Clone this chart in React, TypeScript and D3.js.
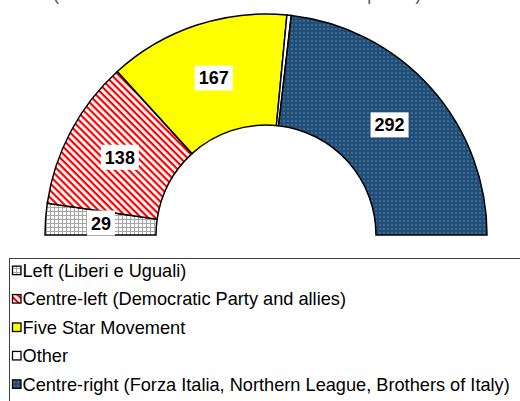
// @ts-nocheck
import * as d3 from "d3";
import React from "react";

const parties = [
  "Left (Liberi e Uguali)",
  "Centre-left (Democratic Party and allies)",
  "Five Star Movement",
  "Other",
  "Centre-right (Forza Italia, Northern League, Brothers of Italy)",
];
const seats = [29, 138, 167, 4, 292];
const fills = ["url(#grid)", "url(#stripes)", "#ffff00", "#ffffff", "url(#dots)"];
const showLabel = [true, true, true, false, true];
const subtitle = "(Number of seats in the Chamber of Deputies)";

const width = 520;
const height = 401;
const cx = 266;
const cy = 235;
const outerR = 221;
const innerR = 110;
const font = "'Liberation Sans', Arial, sans-serif";

export default function App() {
  const data = parties.map((p, i) => ({ party: p, seats: seats[i], fill: fills[i], label: showLabel[i] }));
  const pie = d3
    .pie()
    .sort(null)
    .value((d) => d.seats)
    .startAngle(-Math.PI / 2)
    .endAngle(Math.PI / 2);
  const arc = d3.arc().innerRadius(innerR).outerRadius(outerR);
  const arcs = pie(data);

  const legendY = d3.scaleBand().domain(parties).range([255, 400]).paddingOuter(0.05);

  return (
    <svg width={width} height={height} style={{ position: "absolute", left: 0, top: 0 }} fontFamily={font}>
      <defs>
        <pattern id="grid" width="4" height="4" patternUnits="userSpaceOnUse">
          <rect width="4" height="4" fill="#fff" />
          <path d="M0 0.5H4M0.5 0V4" stroke="#a6a6a6" strokeWidth="1" />
        </pattern>
        <pattern id="stripes" width="5" height="5" patternUnits="userSpaceOnUse" patternTransform="rotate(45)">
          <rect width="5" height="5" fill="#fff" />
          <rect width="5" height="2.2" fill="#ff0000" />
        </pattern>
        <pattern id="dots" width="4" height="4" patternUnits="userSpaceOnUse">
          <rect width="4" height="4" fill="#1f4e79" />
          <rect x="1.5" y="1.5" width="1" height="1" fill="#ffffff" opacity="0.6" />
        </pattern>
      </defs>

      <text x={53} y={-0.5} fontSize={18} fill="#595959">
        {subtitle}
      </text>

      <g transform={`translate(${cx},${cy})`}>
        {arcs.map((a, i) => (
          <path key={i} d={arc(a)} fill={a.data.fill} stroke="#000" strokeWidth={1.5} />
        ))}
        {arcs
          .filter((a) => a.data.label)
          .map((a, i) => {
            const [x, y] = arc.centroid(a);
            const t = String(a.data.seats);
            const w = t.length * 10 + 8;
            return (
              <g key={i} transform={`translate(${x},${y})`}>
                <rect x={-w / 2} y={-12.5} width={w} height={25} fill="#fff" />
                <text textAnchor="middle" dy="0.36em" fontSize={18} fontWeight="bold" fill="#000">
                  {t}
                </text>
              </g>
            );
          })}
      </g>

      <rect x={9.5} y={258.5} width={530} height={160} fill="none" stroke="#404040" strokeWidth={1} />
      {data.map((d, i) => {
        const y = legendY(d.party) + legendY.bandwidth() / 2;
        return (
          <g key={i}>
            <rect x={12.5} y={y - 4.5} width={8.5} height={8.5} fill={d.fill} stroke="#000" strokeWidth={1.3} />
            <text x={22.5} y={y} dy="0.35em" fontSize={18.2} fill="#000">
              {d.party}
            </text>
          </g>
        );
      })}
    </svg>
  );
}
